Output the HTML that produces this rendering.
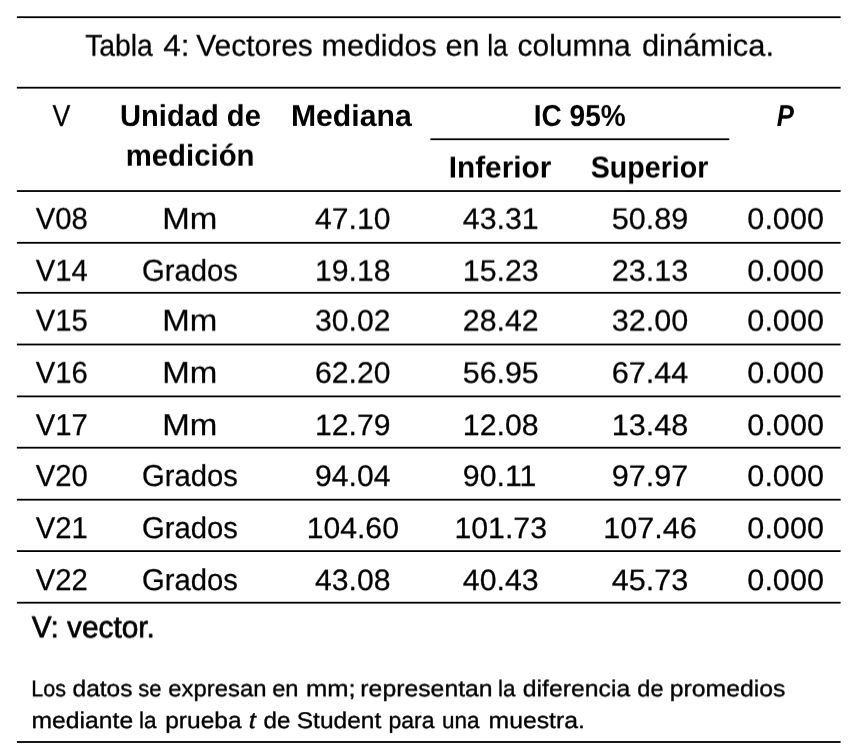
<!DOCTYPE html>
<html lang="es"><head><meta charset="utf-8"><title>Tabla 4</title>
<style>html,body{margin:0;padding:0;background:#fff}body{width:855px;height:750px;overflow:hidden;position:relative}.L{position:absolute;left:0;top:0;width:855px;height:750px;will-change:transform;filter:grayscale(1)}svg{display:block;font-family:"Liberation Sans",sans-serif;text-rendering:geometricPrecision}text{fill:#000}</style></head><body>
<div class="L"><svg width="855" height="750" viewBox="0 0 855 750">
<rect x="16.9" y="16.30" width="823.7" height="1.8" fill="#000"/>
<rect x="16.9" y="86.80" width="823.7" height="1.8" fill="#000"/>
<rect x="430.4" y="138.35" width="298.9" height="1.8" fill="#000"/>
<rect x="16.9" y="190.15" width="823.7" height="1.8" fill="#000"/>
<rect x="16.9" y="241.90" width="823.7" height="1.8" fill="#000"/>
<rect x="16.9" y="291.90" width="823.7" height="1.8" fill="#000"/>
<rect x="16.9" y="343.60" width="823.7" height="1.8" fill="#000"/>
<rect x="16.9" y="395.50" width="823.7" height="1.8" fill="#000"/>
<rect x="16.9" y="446.80" width="823.7" height="1.8" fill="#000"/>
<rect x="16.9" y="498.80" width="823.7" height="1.8" fill="#000"/>
<rect x="16.9" y="550.20" width="823.7" height="1.8" fill="#000"/>
<rect x="16.9" y="601.80" width="823.7" height="1.8" fill="#000"/>
<rect x="16.9" y="741.10" width="823.7" height="1.8" fill="#000"/>
</svg></div>
<div class="L" style="transform:translateY(0.70px) rotate(0.001deg)"><svg width="855" height="750" viewBox="0 0 855 750">
<text transform="translate(85.13,55) scale(0.9383,1)" font-size="30.2" stroke="#000" stroke-width="0.25" stroke-linejoin="round">Tabla</text>
<text transform="translate(163.28,55) scale(1.0455,1)" font-size="30.2" stroke="#000" stroke-width="0.25" stroke-linejoin="round">4:</text>
<text transform="translate(196.20,55) scale(0.9931,1)" font-size="30.2" stroke="#000" stroke-width="0.25" stroke-linejoin="round">Vectores</text>
<text transform="translate(321.55,55) scale(1.0096,1)" font-size="30.2" stroke="#000" stroke-width="0.25" stroke-linejoin="round">medidos</text>
<text transform="translate(445.52,55) scale(1.0131,1)" font-size="30.2" stroke="#000" stroke-width="0.25" stroke-linejoin="round">en</text>
<text transform="translate(487.20,55) scale(0.8748,1)" font-size="30.2" stroke="#000" stroke-width="0.25" stroke-linejoin="round">la</text>
<text transform="translate(517.54,55) scale(0.9923,1)" font-size="30.2" stroke="#000" stroke-width="0.25" stroke-linejoin="round">columna</text>
<text transform="translate(641.91,55) scale(1.0229,1)" font-size="30.2" stroke="#000" stroke-width="0.25" stroke-linejoin="round">dinámica.</text>
</svg></div>
<div class="L" style="transform:translateY(0.90px) rotate(0.001deg)"><svg width="855" height="750" viewBox="0 0 855 750">
<text transform="translate(52.50,125) scale(0.8876,1)" font-size="30.2" stroke="#000" stroke-width="0.25" stroke-linejoin="round">V</text>
<text transform="translate(120.03,125) scale(0.9650,1)" font-size="30.2" font-weight="bold">Unidad de</text>
<text transform="translate(290.90,125) scale(1.0000,1)" font-size="30.2" font-weight="bold">Mediana</text>
<text transform="translate(533.84,125) scale(0.9276,1)" font-size="30.2" font-weight="bold">IC 95%</text>
<text transform="translate(776.67,125) scale(0.8542,1)" font-size="30.2" font-weight="bold" font-style="italic">P</text>
</svg></div>
<div class="L" style="transform:translateY(0.70px) rotate(0.001deg)"><svg width="855" height="750" viewBox="0 0 855 750">
<text transform="translate(125.66,165) scale(0.9723,1)" font-size="30.2" font-weight="bold">medición</text>
</svg></div>
<div class="L" style="transform:translateY(0.50px) rotate(0.001deg)"><svg width="855" height="750" viewBox="0 0 855 750">
<text transform="translate(448.73,177) scale(0.9862,1)" font-size="30.2" font-weight="bold">Inferior</text>
<text transform="translate(590.75,177) scale(0.9473,1)" font-size="30.2" font-weight="bold">Superior</text>
</svg></div>
<div class="L" style="transform:translateY(0.80px) rotate(0.001deg)"><svg width="855" height="750" viewBox="0 0 855 750">
<text transform="translate(35.70,228) scale(0.9695,1)" font-size="30.2" stroke="#000" stroke-width="0.25" stroke-linejoin="round">V08</text>
<text transform="translate(162.35,228) scale(1.0939,1)" font-size="30.2" stroke="#000" stroke-width="0.25" stroke-linejoin="round">Mm</text>
<text transform="translate(315.08,228) scale(1.0186,1)" font-size="29.6" stroke="#000" stroke-width="0.25" stroke-linejoin="round">47.10</text>
<text transform="translate(462.84,228) scale(1.0234,1)" font-size="29.6" stroke="#000" stroke-width="0.25" stroke-linejoin="round">43.31</text>
<text transform="translate(611.77,228) scale(1.0333,1)" font-size="29.6" stroke="#000" stroke-width="0.25" stroke-linejoin="round">50.89</text>
<text transform="translate(747.37,228) scale(1.0333,1)" font-size="29.6" stroke="#000" stroke-width="0.25" stroke-linejoin="round">0.000</text>
</svg></div>
<div class="L" style="transform:translateY(0.70px) rotate(0.001deg)"><svg width="855" height="750" viewBox="0 0 855 750">
<text transform="translate(35.70,280) scale(0.9695,1)" font-size="30.2" stroke="#000" stroke-width="0.25" stroke-linejoin="round">V14</text>
<text transform="translate(141.91,280) scale(0.9683,1)" font-size="30.2" stroke="#000" stroke-width="0.25" stroke-linejoin="round">Grados</text>
<text transform="translate(315.08,280) scale(1.0186,1)" font-size="29.6" stroke="#000" stroke-width="0.25" stroke-linejoin="round">19.18</text>
<text transform="translate(462.84,280) scale(1.0234,1)" font-size="29.6" stroke="#000" stroke-width="0.25" stroke-linejoin="round">15.23</text>
<text transform="translate(611.77,280) scale(1.0333,1)" font-size="29.6" stroke="#000" stroke-width="0.25" stroke-linejoin="round">23.13</text>
<text transform="translate(747.37,280) scale(1.0333,1)" font-size="29.6" stroke="#000" stroke-width="0.25" stroke-linejoin="round">0.000</text>
</svg></div>
<div class="L" style="transform:translateY(0.60px) rotate(0.001deg)"><svg width="855" height="750" viewBox="0 0 855 750">
<text transform="translate(35.70,330) scale(0.9695,1)" font-size="30.2" stroke="#000" stroke-width="0.25" stroke-linejoin="round">V15</text>
<text transform="translate(162.35,330) scale(1.0939,1)" font-size="30.2" stroke="#000" stroke-width="0.25" stroke-linejoin="round">Mm</text>
<text transform="translate(315.08,330) scale(1.0186,1)" font-size="29.6" stroke="#000" stroke-width="0.25" stroke-linejoin="round">30.02</text>
<text transform="translate(462.84,330) scale(1.0234,1)" font-size="29.6" stroke="#000" stroke-width="0.25" stroke-linejoin="round">28.42</text>
<text transform="translate(611.77,330) scale(1.0333,1)" font-size="29.6" stroke="#000" stroke-width="0.25" stroke-linejoin="round">32.00</text>
<text transform="translate(747.37,330) scale(1.0333,1)" font-size="29.6" stroke="#000" stroke-width="0.25" stroke-linejoin="round">0.000</text>
</svg></div>
<div class="L" style="transform:translateY(0.75px) rotate(0.001deg)"><svg width="855" height="750" viewBox="0 0 855 750">
<text transform="translate(35.70,382) scale(0.9695,1)" font-size="30.2" stroke="#000" stroke-width="0.25" stroke-linejoin="round">V16</text>
<text transform="translate(162.35,382) scale(1.0939,1)" font-size="30.2" stroke="#000" stroke-width="0.25" stroke-linejoin="round">Mm</text>
<text transform="translate(315.08,382) scale(1.0186,1)" font-size="29.6" stroke="#000" stroke-width="0.25" stroke-linejoin="round">62.20</text>
<text transform="translate(462.84,382) scale(1.0234,1)" font-size="29.6" stroke="#000" stroke-width="0.25" stroke-linejoin="round">56.95</text>
<text transform="translate(611.77,382) scale(1.0333,1)" font-size="29.6" stroke="#000" stroke-width="0.25" stroke-linejoin="round">67.44</text>
<text transform="translate(747.37,382) scale(1.0333,1)" font-size="29.6" stroke="#000" stroke-width="0.25" stroke-linejoin="round">0.000</text>
</svg></div>
<div class="L" style="transform:translateY(0.10px) rotate(0.001deg)"><svg width="855" height="750" viewBox="0 0 855 750">
<text transform="translate(35.70,435) scale(0.9695,1)" font-size="30.2" stroke="#000" stroke-width="0.25" stroke-linejoin="round">V17</text>
<text transform="translate(162.35,435) scale(1.0939,1)" font-size="30.2" stroke="#000" stroke-width="0.25" stroke-linejoin="round">Mm</text>
<text transform="translate(315.08,435) scale(1.0186,1)" font-size="29.6" stroke="#000" stroke-width="0.25" stroke-linejoin="round">12.79</text>
<text transform="translate(462.84,435) scale(1.0234,1)" font-size="29.6" stroke="#000" stroke-width="0.25" stroke-linejoin="round">12.08</text>
<text transform="translate(611.77,435) scale(1.0333,1)" font-size="29.6" stroke="#000" stroke-width="0.25" stroke-linejoin="round">13.48</text>
<text transform="translate(747.37,435) scale(1.0333,1)" font-size="29.6" stroke="#000" stroke-width="0.25" stroke-linejoin="round">0.000</text>
</svg></div>
<div class="L" style="transform:translateY(0.90px) rotate(0.001deg)"><svg width="855" height="750" viewBox="0 0 855 750">
<text transform="translate(35.70,485) scale(0.9695,1)" font-size="30.2" stroke="#000" stroke-width="0.25" stroke-linejoin="round">V20</text>
<text transform="translate(141.91,485) scale(0.9683,1)" font-size="30.2" stroke="#000" stroke-width="0.25" stroke-linejoin="round">Grados</text>
<text transform="translate(315.08,485) scale(1.0186,1)" font-size="29.6" stroke="#000" stroke-width="0.25" stroke-linejoin="round">94.04</text>
<text transform="translate(462.84,485) scale(1.0234,1)" font-size="29.6" stroke="#000" stroke-width="0.25" stroke-linejoin="round">90.11</text>
<text transform="translate(611.77,485) scale(1.0333,1)" font-size="29.6" stroke="#000" stroke-width="0.25" stroke-linejoin="round">97.97</text>
<text transform="translate(747.37,485) scale(1.0333,1)" font-size="29.6" stroke="#000" stroke-width="0.25" stroke-linejoin="round">0.000</text>
</svg></div>
<div class="L" style="transform:translateY(0.10px) rotate(0.001deg)"><svg width="855" height="750" viewBox="0 0 855 750">
<text transform="translate(35.70,538) scale(0.9695,1)" font-size="30.2" stroke="#000" stroke-width="0.25" stroke-linejoin="round">V21</text>
<text transform="translate(141.91,538) scale(0.9683,1)" font-size="30.2" stroke="#000" stroke-width="0.25" stroke-linejoin="round">Grados</text>
<text transform="translate(306.70,538) scale(1.0186,1)" font-size="29.6" stroke="#000" stroke-width="0.25" stroke-linejoin="round">104.60</text>
<text transform="translate(454.41,538) scale(1.0234,1)" font-size="29.6" stroke="#000" stroke-width="0.25" stroke-linejoin="round">101.73</text>
<text transform="translate(603.26,538) scale(1.0333,1)" font-size="29.6" stroke="#000" stroke-width="0.25" stroke-linejoin="round">107.46</text>
<text transform="translate(747.37,538) scale(1.0333,1)" font-size="29.6" stroke="#000" stroke-width="0.25" stroke-linejoin="round">0.000</text>
</svg></div>
<div class="L" style="transform:translateY(0.10px) rotate(0.001deg)"><svg width="855" height="750" viewBox="0 0 855 750">
<text transform="translate(35.70,590) scale(0.9695,1)" font-size="30.2" stroke="#000" stroke-width="0.25" stroke-linejoin="round">V22</text>
<text transform="translate(141.91,590) scale(0.9683,1)" font-size="30.2" stroke="#000" stroke-width="0.25" stroke-linejoin="round">Grados</text>
<text transform="translate(315.08,590) scale(1.0186,1)" font-size="29.6" stroke="#000" stroke-width="0.25" stroke-linejoin="round">43.08</text>
<text transform="translate(462.84,590) scale(1.0234,1)" font-size="29.6" stroke="#000" stroke-width="0.25" stroke-linejoin="round">40.43</text>
<text transform="translate(611.77,590) scale(1.0333,1)" font-size="29.6" stroke="#000" stroke-width="0.25" stroke-linejoin="round">45.73</text>
<text transform="translate(747.37,590) scale(1.0333,1)" font-size="29.6" stroke="#000" stroke-width="0.25" stroke-linejoin="round">0.000</text>
</svg></div>
<div class="L" style="transform:translateY(0.40px) rotate(0.001deg)"><svg width="855" height="750" viewBox="0 0 855 750">
<text transform="translate(31.66,637) scale(0.9843,1)" font-size="30.3" stroke="#000" stroke-width="0.7" stroke-linejoin="round">V: vector.</text>
</svg></div>
<div class="L" style="transform:translateY(0.30px) rotate(0.001deg)"><svg width="855" height="750" viewBox="0 0 855 750">
<text transform="translate(31.33,696) scale(0.9449,1)" font-size="22.8" stroke="#000" stroke-width="0.35" stroke-linejoin="round">Los</text>
<text transform="translate(72.50,696) scale(1.0767,1)" font-size="22.8" stroke="#000" stroke-width="0.35" stroke-linejoin="round">datos</text>
<text transform="translate(138.22,696) scale(0.9679,1)" font-size="22.8" stroke="#000" stroke-width="0.35" stroke-linejoin="round">se</text>
<text transform="translate(168.23,696) scale(1.0473,1)" font-size="22.8" stroke="#000" stroke-width="0.35" stroke-linejoin="round">expresan</text>
<text transform="translate(272.13,696) scale(1.0403,1)" font-size="22.8" stroke="#000" stroke-width="0.35" stroke-linejoin="round">en</text>
<text transform="translate(305.90,696) scale(1.1223,1)" font-size="22.8" stroke="#000" stroke-width="0.35" stroke-linejoin="round">mm;</text>
<text transform="translate(360.35,696) scale(1.0874,1)" font-size="22.8" stroke="#000" stroke-width="0.35" stroke-linejoin="round">representan</text>
<text transform="translate(498.09,696) scale(0.9840,1)" font-size="22.8" stroke="#000" stroke-width="0.35" stroke-linejoin="round">la</text>
<text transform="translate(522.69,696) scale(1.0879,1)" font-size="22.8" stroke="#000" stroke-width="0.35" stroke-linejoin="round">diferencia</text>
<text transform="translate(637.34,696) scale(1.0310,1)" font-size="22.8" stroke="#000" stroke-width="0.35" stroke-linejoin="round">de</text>
<text transform="translate(669.65,696) scale(1.0880,1)" font-size="22.8" stroke="#000" stroke-width="0.35" stroke-linejoin="round">promedios</text>
</svg></div>
<div class="L" style="transform:translateY(0.10px) rotate(0.001deg)"><svg width="855" height="750" viewBox="0 0 855 750">
<text transform="translate(31.45,728) scale(1.0844,1)" font-size="22.8" stroke="#000" stroke-width="0.35" stroke-linejoin="round">mediante</text>
<text transform="translate(139.08,728) scale(0.9900,1)" font-size="22.8" stroke="#000" stroke-width="0.35" stroke-linejoin="round">la</text>
<text transform="translate(165.16,728) scale(1.0768,1)" font-size="22.8" stroke="#000" stroke-width="0.35" stroke-linejoin="round">prueba</text>
<text transform="translate(248.76,728) scale(1.1231,1)" font-size="22.8" font-style="italic" stroke="#000" stroke-width="0.35" stroke-linejoin="round">t</text>
<text transform="translate(263.52,728) scale(1.0606,1)" font-size="22.8" stroke="#000" stroke-width="0.35" stroke-linejoin="round">de</text>
<text transform="translate(296.70,728) scale(1.0767,1)" font-size="22.8" stroke="#000" stroke-width="0.35" stroke-linejoin="round">Student</text>
<text transform="translate(388.45,728) scale(1.0090,1)" font-size="22.8" stroke="#000" stroke-width="0.35" stroke-linejoin="round">para</text>
<text transform="translate(441.98,728) scale(0.9882,1)" font-size="22.8" stroke="#000" stroke-width="0.35" stroke-linejoin="round">una</text>
<text transform="translate(488.55,728) scale(1.0865,1)" font-size="22.8" stroke="#000" stroke-width="0.35" stroke-linejoin="round">muestra.</text>
</svg></div>
</body></html>
